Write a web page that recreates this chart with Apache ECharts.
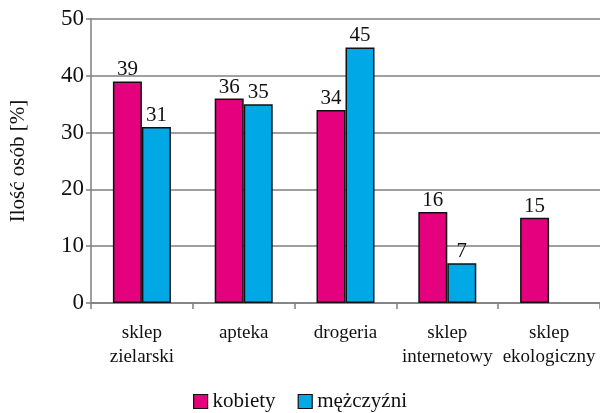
<!DOCTYPE html>
<html>
<head>
<meta charset="utf-8">
<script src="https://cdn.jsdelivr.net/npm/echarts@6/dist/echarts.min.js"></script>
<style>
  html, body { margin: 0; padding: 0; background: #fff; }
  #chart { width: 600px; height: 413px; }
</style>
</head>
<body>
<div id="chart"></div>
<script>
// dane
const categories = ["sklep\nzielarski", "apteka", "drogeria", "sklep\ninternetowy", "sklep\nekologiczny"];
const kobiety = [39, 36, 34, 16, 15];
const mezczyzni = [31, 35, 45, 7, null];
const yTicks = [0, 10, 20, 30, 40, 50];

const font = "Liberation Serif";
const axisGray = "#7f7f7f";

const chart = echarts.init(document.getElementById("chart"));

const barLabel = {
    show: true,
    position: "top",
    distance: 1,
    color: "#111",
    fontFamily: font,
    fontSize: 21,
};

chart.setOption({
    animation: false,
    textStyle: { fontFamily: font },
    grid: { left: 86, right: 0, top: 19, bottom: 110, containLabel: false },
    legend: {
        top: 386,
        left: "center",
        itemWidth: 14,
        itemHeight: 14,
        itemGap: 22,
        icon: "rect",
        itemStyle: { borderColor: "#111", borderWidth: 1.2 },
        formatter: "{t|{name}}",
        textStyle: {
            fontFamily: font,
            fontSize: 20,
            color: "#111",
            rich: { t: { fontFamily: font, fontSize: 21, color: "#111" } },
        },
        data: ["kobiety", "mężczyźni"],
    },
    xAxis: {
        type: "category",
        data: categories,
        axisLine: { lineStyle: { color: axisGray, width: 1.5 } },
        axisTick: { show: true, length: 6, alignWithLabel: false, lineStyle: { color: axisGray, width: 1.5 } },
        axisLabel: {
            color: "#111",
            fontFamily: font,
            fontSize: 19,
            lineHeight: 24,
            margin: 18,
            interval: 0,
        },
    },
    yAxis: {
        type: "value",
        min: yTicks[0],
        max: yTicks[yTicks.length - 1],
        interval: 10,
        name: "Ilość osób [%]",
        nameLocation: "middle",
        nameGap: 62,
        nameTextStyle: { fontFamily: font, fontSize: 21, color: "#111" },
        axisLine: { show: true, lineStyle: { color: axisGray, width: 1.5 } },
        axisTick: { show: true, length: 5, lineStyle: { color: axisGray, width: 1.5 } },
        axisLabel: { color: "#111", fontFamily: font, fontSize: 23, margin: 7 },
        splitLine: { lineStyle: { color: axisGray, width: 1.5 } },
    },
    series: [
        {
            name: "kobiety",
            type: "bar",
            data: kobiety,
            barWidth: 29,
            barGap: "0%",
            itemStyle: { color: "#e5007d", borderColor: "#111", borderWidth: 1.5 },
            label: barLabel,
        },
        {
            name: "mężczyźni",
            type: "bar",
            data: mezczyzni,
            barWidth: 29,
            itemStyle: { color: "#00a8e6", borderColor: "#111", borderWidth: 1.5 },
            label: barLabel,
        },
    ],
});
</script>
</body>
</html>
